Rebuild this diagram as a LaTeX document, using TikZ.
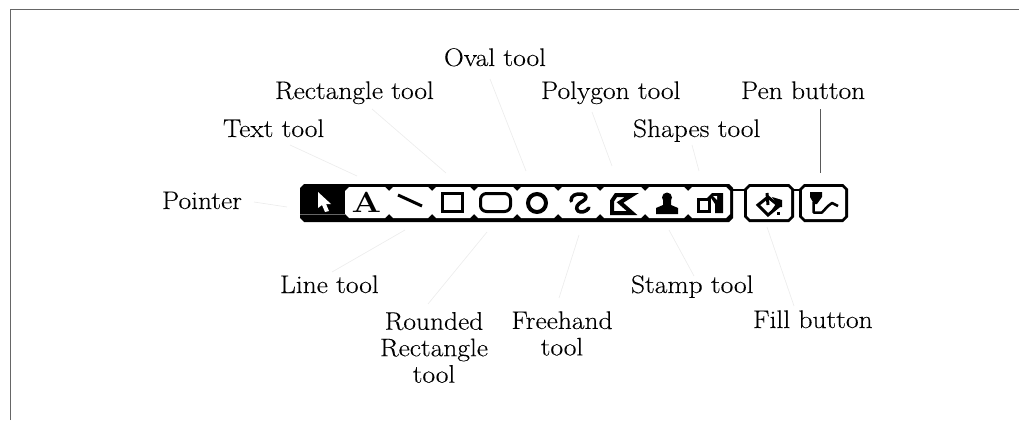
\documentclass[tikz,border=0pt]{standalone}
\usepackage{graphicx}
\usepackage{fontspec}
\newfontfamily\lblface[FakeStretch=1.082,FakeBold=0.25]{Latin Modern Roman}
\newcommand{\lblfont}{\lblface\fontsize{25.4}{26.5}\selectfont}
\tikzset{
  lbl/.style={inner sep=0pt,outer sep=0pt,font=\lblfont,anchor=base west},
  lblc/.style={inner sep=0pt,outer sep=0pt,font=\lblfont,align=center,anchor=center},
  leader/.style={draw=black!7,line width=0.7pt},
  penleader/.style={draw=black!65,line width=1pt},
  frameline/.style={draw=black!60,line width=1.5pt},
  barblack/.style={fill=black,draw=none},
  cellwhite/.style={fill=white,draw=none},
  iconline/.style={draw=black,line width=3pt,line join=miter},
  iconfill/.style={fill=black,draw=none},
  connect/.style={draw=black,line width=2pt}
}
\newcommand{\cell}[2]{\fill[cellwhite] (#1+4,187) -- (#2-4,187) -- (#2,191) -- (#2,214) -- (#2-4,218) -- (#1+4,218) -- (#1,214) -- (#1,191) -- cycle;}
\newcommand{\btn}[2]{%
\fill[barblack] (#1+5,184) -- (#2-5,184) -- (#2,189) -- (#2,217) -- (#2-5,222) -- (#1+5,222) -- (#1,217) -- (#1,189) -- cycle;
\fill[cellwhite] (#1+6,187) -- (#2-6,187) -- (#2-3,190) -- (#2-3,216) -- (#2-6,219) -- (#1+6,219) -- (#1+3,216) -- (#1+3,190) -- cycle;}
\begin{document}
\begin{tikzpicture}[x=1pt,y=-1pt]
\useasboundingbox (0,0) rectangle (1019,420);
% frame
\coordinate (fa) at (10.5,420);
\coordinate (fb) at (10.5,9.5);
\coordinate (fc) at (1019,9.5);
\draw[frameline] (fa) -- (fb) -- (fc);
% toolbar
\fill[barblack] (304,184) -- (729,184) -- (733,188) -- (733,218) -- (729,222) -- (304,222) -- (300,218) -- (300,188) -- cycle;
\cell{345}{389}\cell{389}{432}\cell{432}{474}\cell{474}{517}\cell{517}{558}\cell{558}{600}\cell{600}{645}\cell{645}{688}\cell{688}{730}
\draw[draw=black!60,line width=0.5pt] (300,214) -- (345,214);
\btn{744}{794}\btn{799}{848}
\coordinate (c1) at (733,190);\coordinate (c2) at (745,190);
\coordinate (c3) at (793,190);\coordinate (c4) at (800,190);
\draw[connect] (c1) -- (c2);
\draw[connect] (c3) -- (c4);
% pointer icon
\fill[white] (318,192) -- (331,204) -- (326,204) -- (329,211) -- (325,212) -- (322,205) -- (318,208) -- cycle;
% A icon
\node[inner sep=0pt,anchor=base,font=\fontsize{29}{29}\selectfont\bfseries] (iconA) at (366.5,212) {\scalebox{1.2}[1]{A}};
% line icon
\draw[draw=black,line width=3pt] (398,195) -- (422,206);
% rectangle
\draw[iconline] (442.5,193.5) rectangle (462.5,211.5);
% rounded rect
\draw[iconline,rounded corners=6pt] (480.5,193.5) rectangle (510.5,211.5);
% oval
\draw[draw=black,line width=4pt] (537,203) circle (9);
% freehand
\draw[draw=black,line width=3.5pt,line cap=round,line join=round] (571,201) .. controls (571,195) and (576,194) .. (580,194) .. controls (588,194) and (587,199) .. (583,201) .. controls (577,204) and (575,208) .. (578,211) .. controls (581,213) and (586,212) .. (589,208);
% polygon
\draw[draw=black,line width=4pt,line join=miter] (612,201) -- (616,195) -- (632,195) -- (620,202.5) -- (632,213) -- (612,213) -- cycle;
% stamp
\fill[iconfill] (667,197.5) circle (5);
\fill[iconfill] (663,198) -- (671,198) -- (671,205) -- (678,208) -- (678,214) -- (656,214) -- (656,208) -- (663,205) -- cycle;
% shapes
\draw[draw=black,line width=3pt] (698,199.5) rectangle (709,211.5);
\fill[iconfill] (707,198) -- (712,193) -- (723,193) -- (723,213) -- (715,213) -- (715,204) -- (711,198) -- cycle;
\fill[white] (713,196) -- (717,196) -- (717,200) -- cycle;
% fill bucket
\draw[draw=black,line width=3pt,line join=miter] (758,205) -- (768,197) -- (779,206) -- (768,215) -- cycle;
\fill[iconfill] (768,197) -- (779,206) -- (768,215) -- (776,204) -- cycle;
\draw[draw=black,line width=3pt] (767,193) -- (768,205);
\fill[iconfill] (772,197) -- (782,200) -- (782,207) -- (779,207) -- cycle;
\fill[iconfill] (777,212) rectangle (780,215);
% pen
\fill[iconfill] (810,192) -- (822,192) -- (822,197) -- (817,204) -- (814,204) -- (810,197) -- cycle;
\draw[draw=black,line width=2.5pt,line join=round] (813.5,202) -- (813.5,212.5) -- (822,212.5) -- (828,206) -- (832,203) -- (838,206);
% labels
\node[lbl] (pointer) at (162,209) {Pointer};
\node[lbl] (texttool) at (223,137) {Text tool};
\node[lbl] (recttool) at (275,99) {Rectangle tool};
\node[lbl] (ovaltool) at (444,66) {Oval tool};
\node[lbl] (polytool) at (541,99) {Polygon tool};
\node[lbl] (shapetool) at (633,137) {Shapes tool};
\node[lbl] (penbtn) at (741,99) {Pen button};
\node[lbl] (linetool) at (280,293) {Line tool};
\node[lblc] (roundtool) at (434,347.5) {Rounded\\Rectangle\\tool};
\node[lblc] (freetool) at (562,333.5) {Freehand\\tool};
\node[lbl] (stamptool) at (631,293) {Stamp tool};
\node[lbl] (fillbtn) at (753,328) {Fill button};
% leader ends
\coordinate (a1) at (254,202); \coordinate (b1) at (287,207);
\coordinate (a2) at (290,145); \coordinate (b2) at (357,176);
\coordinate (a3) at (372,109); \coordinate (b3) at (446,173);
\coordinate (a4) at (490,79);  \coordinate (b4) at (526,171);
\coordinate (a5) at (592,112); \coordinate (b5) at (612,166);
\coordinate (a6) at (692,145); \coordinate (b6) at (699,171);
\coordinate (a7) at (820,109); \coordinate (b7) at (820,173);
\coordinate (a8) at (332,272); \coordinate (b8) at (405,230);
\coordinate (a9) at (428,304); \coordinate (b9) at (487,232);
\coordinate (a10) at (559,298); \coordinate (b10) at (579,235);
\coordinate (a11) at (694,276); \coordinate (b11) at (669,230);
\coordinate (a12) at (794,306); \coordinate (b12) at (767,227);
\draw[leader] (a1) -- (b1);
\draw[leader] (a2) -- (b2);
\draw[leader] (a3) -- (b3);
\draw[leader] (a4) -- (b4);
\draw[leader] (a5) -- (b5);
\draw[leader] (a6) -- (b6);
\draw[penleader] (a7) -- (b7);
\draw[leader] (a8) -- (b8);
\draw[leader] (a9) -- (b9);
\draw[leader] (a10) -- (b10);
\draw[leader] (a11) -- (b11);
\draw[leader] (a12) -- (b12);
\end{tikzpicture}
\end{document}
